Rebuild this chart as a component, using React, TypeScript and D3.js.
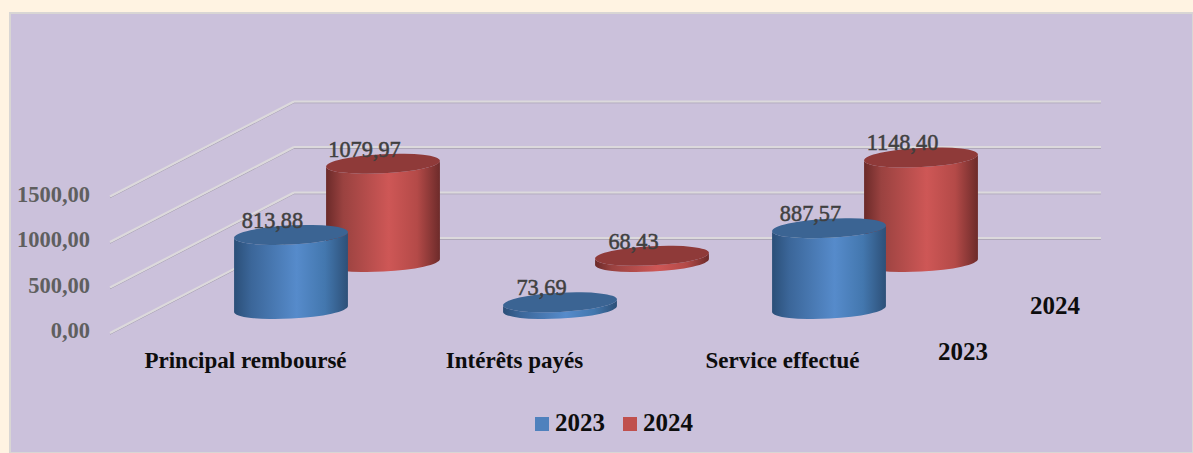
import React from "react";
import * as d3 from "d3";

const categories = ["Principal remboursé", "Intérêts payés", "Service effectué"];
const seriesNames = ["2023", "2024"];
const values2023 = [813.88, 73.69, 887.57];
const values2024 = [1079.97, 68.43, 1148.4];
const valueLabels2023 = ["813,88", "73,69", "887,57"];
const valueLabels2024 = ["1079,97", "68,43", "1148,40"];
const tickValues = [0, 500, 1000, 1500];
const tickLabels = ["0,00", "500,00", "1000,00", "1500,00"];

const W = 1193, H = 453;
const font = "'Liberation Serif', serif";

// Oblique projection: value -> vertical offset, category -> x, series -> depth offset
const yOffset = d3.scaleLinear().domain([0, 1500]).range([0, -136.5]);
const xCat = d3.scalePoint<string>().domain(categories).range([291, 829]);
const depthX = d3.scalePoint<string>().domain(seriesNames).range([0, 92]);
const depthY = d3.scalePoint<string>().domain(seriesNames).range([0, -47]);
const baseY = 309;
const rx = 57, ry = 9.6, tiltDeg = -3;
const tilt = (tiltDeg * Math.PI) / 180;
const ex = rx * Math.cos(tilt), ey = rx * Math.sin(tilt);

const floorFront = { x: 110, y: 333 };
const floorBack = { x: 294, y: 238 };
const wallRight = 1101;

const colors: Record<string, { top: string; stops: [number, string][] }> = {
  "2023": {
    top: "#3b6493",
    stops: [[0, "#2b4f78"], [0.15, "#3b6699"], [0.55, "#568bcb"], [0.8, "#4377ae"], [1, "#2d5078"]],
  },
  "2024": {
    top: "#8f3a39",
    stops: [[0, "#6b2a29"], [0.15, "#9a4240"], [0.55, "#ce5756"], [0.8, "#b44a48"], [1, "#6d2b2a"]],
  },
};
const legendColors: Record<string, string> = { "2023": "#4f81bd", "2024": "#c0504d" };

function Cylinder({ cx, by, h, s }: { cx: number; by: number; h: number; s: string }) {
  const ty = by - h;
  const body = `M${cx - ex},${ty - ey} L${cx - ex},${by - ey} A${rx},${ry} ${tiltDeg} 0 0 ${cx + ex},${by + ey} L${cx + ex},${ty + ey} A${rx},${ry} ${tiltDeg} 0 1 ${cx - ex},${ty - ey} Z`;
  return (
    <g>
      <path d={body} fill={`url(#grad${s})`} />
      <ellipse cx={cx} cy={ty} rx={rx} ry={ry} fill={colors[s].top} transform={`rotate(${tiltDeg} ${cx} ${ty})`} />
    </g>
  );
}

function Line({ x1, y1, x2, y2 }: { x1: number; y1: number; x2: number; y2: number }) {
  return (
    <g>
      <line x1={x1} y1={y1 + 1.3} x2={x2} y2={y2 + 1.3} stroke="#a8a2b2" strokeWidth={1} />
      <line x1={x1} y1={y1} x2={x2} y2={y2} stroke="#dcd9dc" strokeWidth={2.2} />
    </g>
  );
}

export default function App() {
  const rows = [
    { s: "2024", vals: values2024, labs: valueLabels2024 },
    { s: "2023", vals: values2023, labs: valueLabels2023 },
  ];
  return (
    <svg width={W} height={H} style={{ position: "absolute", left: 0, top: 0, display: "block" }} fontFamily={font}>
      <defs>
        {seriesNames.map((s) => (
          <linearGradient key={s} id={`grad${s}`} x1="0" x2="1" y1="0" y2="0">
            {colors[s].stops.map(([o, c]) => (
              <stop key={o} offset={o} stopColor={c} />
            ))}
          </linearGradient>
        ))}
      </defs>
      <rect width={W} height={H} fill="#fff3e2" />
      <rect x={10} y={13} width={W - 10} height={H - 13} fill="#cbc1db" stroke="#d9d6d4" strokeWidth={2} />

      {tickValues.map((t, i) => {
        const o = yOffset(t);
        return (
          <g key={t}>
            <Line x1={floorFront.x} y1={floorFront.y + o} x2={floorBack.x} y2={floorBack.y + o} />
            <Line x1={floorBack.x} y1={floorBack.y + o} x2={wallRight} y2={floorBack.y + o} />
            <text x={90} y={floorFront.y + o + 5} textAnchor="end" fontSize={22.5} fontWeight="bold" fill="#5f5f5f">
              {tickLabels[i]}
            </text>
          </g>
        );
      })}

      {rows.map(({ s, vals }) =>
        categories.map((c, i) => (
          <Cylinder
            key={s + c}
            cx={xCat(c)! + depthX(s)!}
            by={baseY + depthY(s)!}
            h={-yOffset(vals[i])}
            s={s}
          />
        ))
      )}

      {rows.map(({ s, vals, labs }) =>
        categories.map((c, i) => (
          <text
            key={s + c}
            x={xCat(c)! + depthX(s)! - 18.5}
            y={baseY + depthY(s)! + yOffset(vals[i]) - 7}
            textAnchor="middle"
            fontSize={22.3}
            fill="#404040"
            stroke="#404040"
            strokeWidth={0.5}
          >
            {labs[i]}
          </text>
        ))
      )}

      {categories.map((c, i) => (
        <text key={c} x={[245.5, 514.5, 782.5][i]} y={367.5} textAnchor="middle" fontSize={23} fontWeight="bold" fill="#0d0d0d">
          {c}
        </text>
      ))}

      <text x={1055} y={313.5} textAnchor="middle" fontSize={25} fontWeight="bold" fill="#0d0d0d">{seriesNames[1]}</text>
      <text x={963} y={360} textAnchor="middle" fontSize={25} fontWeight="bold" fill="#0d0d0d">{seriesNames[0]}</text>

      {seriesNames.map((s, i) => (
        <g key={s} transform={`translate(${535 + i * 88},417)`}>
          <rect width={14} height={14} fill={legendColors[s]} />
          <text x={20} y={13.5} fontSize={25} fontWeight="bold" fill="#0d0d0d">{s}</text>
        </g>
      ))}
    </svg>
  );
}
